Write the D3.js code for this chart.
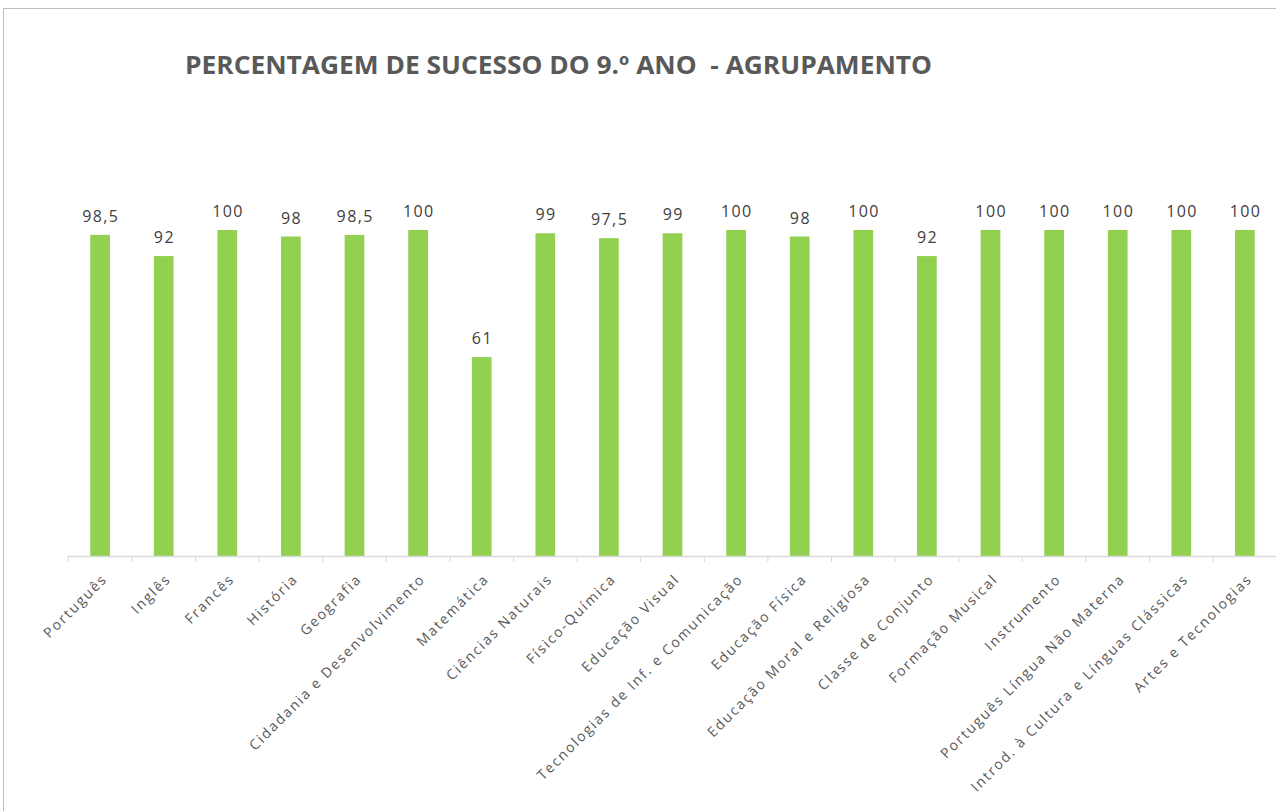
<!DOCTYPE html>
<html>
<head>
<meta charset="utf-8">
<script src="https://cdn.jsdelivr.net/npm/d3@7"></script>
<style>
  body { margin: 0; background: #fff; }
  svg { display: block; }
</style>
</head>
<body>
<div id="chart"></div>
<script>
var disciplinas = ["Português", "Inglês", "Francês", "História", "Geografia",
  "Cidadania e Desenvolvimento", "Matemática", "Ciências Naturais", "Físico-Química",
  "Educação Visual", "Tecnologias de Inf. e Comunicação", "Educação Física",
  "Educação Moral e Religiosa", "Classe de Conjunto", "Formação Musical",
  "Instrumento", "Português Língua Não Materna", "Introd. à Cultura e Línguas Clássicas",
  "Artes e Tecnologias"];
var sucesso = [98.5, 92, 100, 98, 98.5, 100, 61, 99, 97.5, 99, 100, 98, 100, 92, 100, 100, 100, 100, 100];
var titulo = "PERCENTAGEM DE SUCESSO DO 9.º ANO  - AGRUPAMENTO";

var W = 1276, H = 811;
var svg = d3.select("#chart").append("svg")
    .attr("width", W)
    .attr("height", H);

// chart area border (right/bottom fall outside the picture)
svg.append("rect")
    .attr("x", 3.5).attr("y", 8.5)
    .attr("width", W + 10).attr("height", H + 10)
    .attr("fill", "none")
    .attr("stroke", "#bfbfbf");

svg.append("text")
    .attr("x", 185).attr("y", 74)
    .attr("textLength", 747)
    .attr("lengthAdjust", "spacingAndGlyphs")
    .style("white-space", "pre")
    .style("font-family", "'Open Sans', sans-serif")
    .style("font-size", "25px")
    .style("font-weight", "bold")
    .style("fill", "#595959")
    .text(titulo);

var x = d3.scaleBand()
    .domain(disciplinas)
    .range([68.3, 68.3 + 19 * 63.6])
    .paddingInner(0.69)
    .paddingOuter(0.345);

var y = d3.scaleLinear().domain([0, 100]).range([556, 230]);

var fmt = function(v) { return String(v).replace(".", ","); };

svg.selectAll("rect.bar")
  .data(sucesso)
  .enter().append("rect")
    .attr("class", "bar")
    .attr("x", function(d, i) { return x(disciplinas[i]); })
    .attr("y", function(d) { return y(d); })
    .attr("width", x.bandwidth())
    .attr("height", function(d) { return y(0) - y(d); })
    .attr("fill", "#92d050");

svg.selectAll("text.val")
  .data(sucesso)
  .enter().append("text")
    .attr("class", "val")
    .attr("x", function(d, i) { return x(disciplinas[i]) + x.bandwidth() / 2 + 0.7; })
    .attr("y", function(d) { return y(d) - 13; })
    .attr("text-anchor", "middle")
    .style("font-family", "'Open Sans', sans-serif")
    .style("font-size", "16px")
    .style("letter-spacing", "1.4px")
    .style("fill", "#404040")
    .text(fmt);

// category axis
var axisG = svg.append("g");
axisG.append("line")
    .attr("x1", 68.3).attr("x2", W)
    .attr("y1", 556.5).attr("y2", 556.5)
    .attr("stroke", "#d9d9d9").attr("stroke-width", 1.5);

axisG.selectAll("line.tick")
  .data(d3.range(20))
  .enter().append("line")
    .attr("class", "tick")
    .attr("x1", function(i) { return 68.3 + i * x.step(); })
    .attr("x2", function(i) { return 68.3 + i * x.step(); })
    .attr("y1", 556).attr("y2", 562)
    .attr("stroke", "#d9d9d9");

axisG.selectAll("text.cat")
  .data(disciplinas)
  .enter().append("text")
    .attr("class", "cat")
    .attr("text-anchor", "end")
    .attr("transform", function(d) {
      var cx = x(d) + x.bandwidth() / 2 + 8;
      return "translate(" + cx + ",580) rotate(-45)";
    })
    .style("font-family", "'Open Sans', sans-serif")
    .style("font-size", "14px")
    .style("letter-spacing", "1.8px")
    .style("fill", "#595959")
    .text(function(d) { return d; });
</script>
</body>
</html>
